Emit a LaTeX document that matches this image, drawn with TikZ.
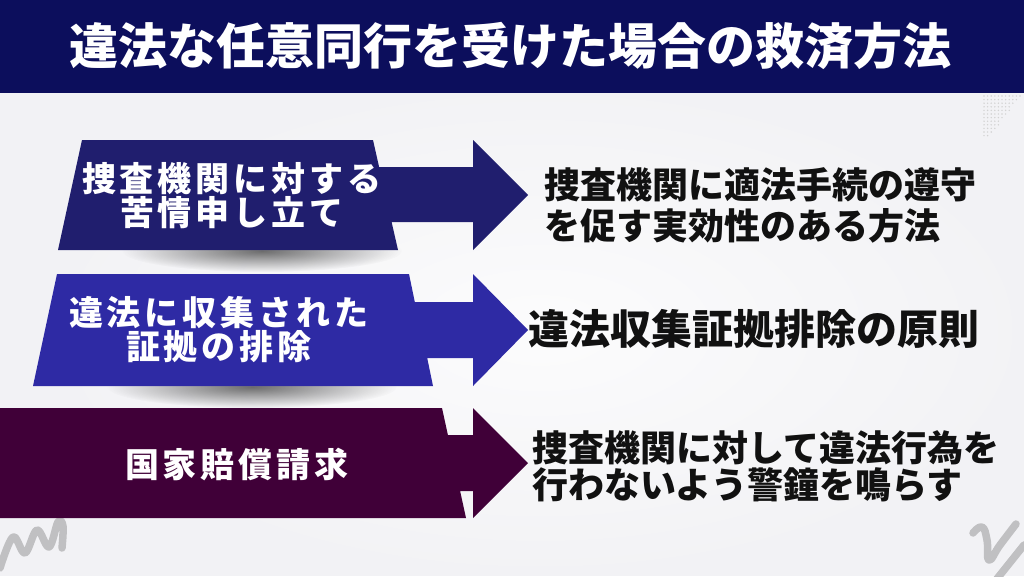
\documentclass[tikz,border=0pt]{standalone}
\usepackage{fontspec}
\newfontfamily\jp{Noto Sans CJK JP}
\usetikzlibrary{fadings}
\definecolor{bgc}{RGB}{242,242,245}
\definecolor{hdr}{RGB}{12,14,92}
\definecolor{sone}{RGB}{32,30,110}
\definecolor{stwo}{RGB}{46,42,164}
\definecolor{sthree}{RGB}{64,0,56}
\definecolor{ink}{RGB}{17,17,17}
\definecolor{squig}{RGB}{192,192,194}
\tikzfading[name=softell, inner color=transparent!0, outer color=transparent!100]
\newdimen\lsamt \lsamt=4pt
\def\lsA#1{\ifx\relax#1\unkern\else#1\kern\lsamt\expandafter\lsA\fi}
\newcommand\lsp[1]{\lsA#1\relax}
\tikzset{
  lbl/.style={inner sep=0pt, text=white, align=center, font=\jp\bfseries\fontsize{34}{34}\selectfont},
  rtxt/.style={inner sep=0pt, text=ink, align=left, anchor=west},
  shadowell/.style={fill=black!80, opacity=0.7, path fading=softell},
  squigline/.style={draw=squig, line width=7.5pt, line cap=round, line join=round}
}
\begin{document}
\begin{tikzpicture}[x=1pt,y=-1pt]
\useasboundingbox (0,0) rectangle (1024,576);
% background
\fill[bgc] (0,0) rectangle (1024,576);
\fill[white, opacity=0.8, path fading=softell] (540,330) ellipse [x radius=520, y radius=260];
% dotted corner
\foreach \j in {0,...,11}{
  \pgfmathtruncatemacro{\n}{10-\j*0.75}
  \foreach \i in {0,...,\n}{
    \fill[gray!35] (984+\i*3.6,96+\j*3.6) circle[radius=0.8];
  }
}
% squiggles
\draw[squigline] plot[smooth, tension=0.6] coordinates {(0,568) (13,537) (25,553) (37,530) (49,547) (58,522) (63,526) (62,548)};
\draw[squigline] plot[smooth, tension=0.8] coordinates {(973,533) (982,527) (987,540) (989,560) (1000,545) (1016,524)};
\draw[squigline] (1024,545) -- (996,580);
% header
\fill[hdr] (0,0) rectangle (1024,93);
\node[inner sep=0pt, text=white, font=\jp\bfseries\fontsize{49}{49}\selectfont] (title) at (510,46) {違法な任意同行を受けた場合の救済方法};
% shadows
\fill[shadowell] (262,251) ellipse [x radius=140, y radius=21];
\fill[shadowell] (252,387) ellipse [x radius=145, y radius=21];
% arrows
\fill[sone] (82,140) -- (373,140) -- (379.1,167) -- (473,167) -- (473,140) -- (528,195) -- (473,250) -- (473,222) -- (391.6,222) -- (398,250) -- (58,250) -- cycle;
\fill[stwo] (57,274) -- (409,274) -- (414.8,302) -- (473,302) -- (473,274) -- (528,330) -- (473,386) -- (473,358) -- (427.2,358) -- (433,386) -- (33,386) -- cycle;
\fill[sthree] (-10,408) -- (442,408) -- (447.9,435) -- (473,435) -- (473,408) -- (528,463) -- (473,518) -- (473,491) -- (460.1,491) -- (466,518) -- (-10,518) -- cycle;
% left labels
\node[lbl] (l1) at (232,196) {\lsp{捜査機関に対する}\\\lsp{苦情申し立て}};
\node[lbl] (l2) at (219,330) {\lsp{違法に収集された}\\\lsp{証拠の排除}};
\node[lbl] (l3) at (237,464) {\lsp{国家賠償請求}};
% right texts
\node[rtxt, font=\jp\bfseries\fontsize{36}{41}\selectfont] (r1) at (544,205) {捜査機関に適法手続の遵守\\を促す実効性のある方法};
\node[rtxt, font=\jp\bfseries\fontsize{41}{41}\selectfont] (r2) at (528,329) {違法収集証拠排除の原則};
\node[rtxt, font=\jp\bfseries\fontsize{36}{37}\selectfont] (r3) at (532,466) {捜査機関に対して違法行為を\\行わないよう警鐘を鳴らす};
\end{tikzpicture}
\end{document}
